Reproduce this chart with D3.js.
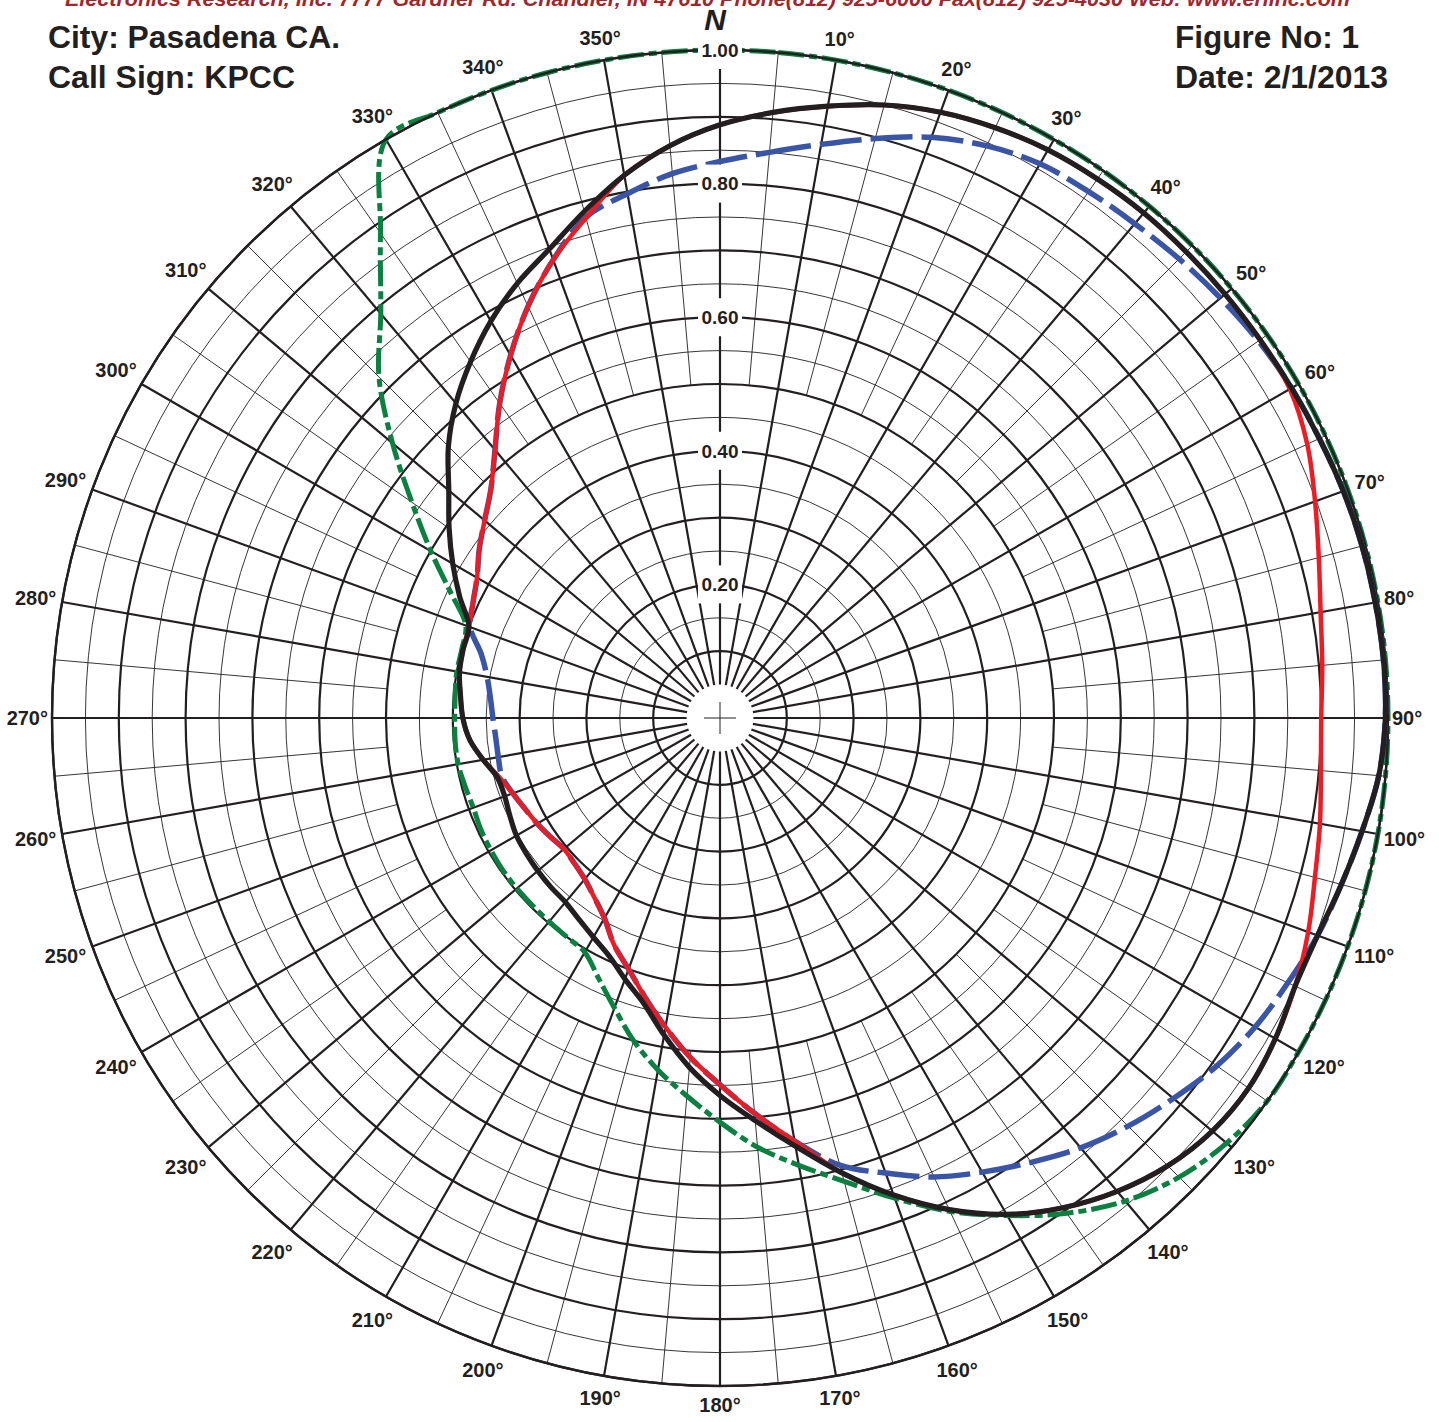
<!DOCTYPE html>
<html>
<head>
<meta charset="utf-8">
<script src="https://cdn.jsdelivr.net/npm/d3@7"></script>
<style>
  body { margin: 0; background: #fff; }
  svg { display: block; }
</style>
</head>
<body>
<div id="polarChart"></div>
<script>
// bearings (deg, clockwise from N) at which the patterns were read
const angles = [0,5,10,15,20,25,30,35,40,45,50,55,60,65,70,75,80,85,90,95,100,105,110,115,
  120,125,130,135,140,145,150,155,160,165,170,175,180,185,190,195,200,205,210,215,220,225,230,235,
  240,245,250,255,260,265,270,275,280,285,290,295,300,305,310,315,320,325,330,335,340,345,350,355];

// black - composite
const composite = [0.888,0.910,0.930,0.950,0.965,0.975,0.982,0.985,0.987,0.987,0.987,0.987,
  0.988,0.990,0.993,0.995,0.996,0.997,0.996,0.990,0.976,0.963,0.952,0.950,
  0.960,0.966,0.962,0.948,0.925,0.895,0.858,0.812,0.760,0.705,0.651,0.605,
  0.565,0.525,0.482,0.442,0.416,0.393,0.379,0.368,0.360,0.358,0.356,0.354,
  0.352,0.347,0.343,0.345,0.360,0.376,0.385,0.390,0.396,0.398,0.400,0.430,
  0.462,0.495,0.530,0.575,0.615,0.651,0.686,0.718,0.747,0.785,0.825,0.860];

// red
const patternA = [0.888,0.910,0.930,0.950,0.965,0.975,0.982,0.985,0.987,0.987,0.987,0.987,
  0.985,0.970,0.948,0.928,0.913,0.905,0.900,0.903,0.912,0.922,0.937,0.950,
  0.960,0.966,0.962,0.948,0.925,0.895,0.858,0.812,0.760,0.705,0.643,0.594,
  0.549,0.510,0.470,0.433,0.400,0.375,0.346,0.328,0.315,0.308,0.305,0.310,
  0.316,0.322,0.330,0.342,0.360,0.376,0.385,0.390,0.396,0.398,0.400,0.408,
  0.420,0.440,0.460,0.485,0.524,0.575,0.627,0.680,0.730,0.775,0.825,0.860];

// blue dashed
const patternB = [0.833,0.850,0.872,0.898,0.925,0.945,0.958,0.962,0.966,0.972,0.978,0.984,
  0.988,0.990,0.993,0.995,0.996,0.997,0.996,0.990,0.976,0.963,0.952,0.938,
  0.925,0.908,0.886,0.864,0.840,0.812,0.785,0.758,0.725,0.693,0.643,0.594,
  0.549,0.510,0.470,0.433,0.400,0.375,0.346,0.328,0.315,0.308,0.305,0.310,
  0.316,0.322,0.330,0.338,0.337,0.337,0.340,0.345,0.354,0.370,0.398,0.408,
  0.420,0.440,0.460,0.485,0.524,0.575,0.627,0.680,0.730,0.776,0.797,0.818];

// green dashed - envelope
const envelope = [1,1,1,1,1,1,1,1,1,1,1,1,
  1,1,1,1,1,1,1,1,1,1,1,1,
  1,1,0.990,0.972,0.944,0.905,0.860,0.815,0.765,0.718,0.680,0.645,
  0.605,0.568,0.535,0.500,0.462,0.430,0.405,0.400,0.398,0.397,0.397,0.397,
  0.396,0.395,0.393,0.395,0.398,0.398,0.397,0.398,0.400,0.400,0.405,0.445,
  0.500,0.563,0.640,0.722,0.790,0.886,1,1,1,1,1,1];

const ringTicks = [0.2, 0.4, 0.6, 0.8, 1.0];
const ringLabels = ["0.20", "0.40", "0.60", "0.80", "1.00"];
const bearingTicks = [10,20,30,40,50,60,70,80,90,100,110,120,130,140,150,160,170,180,
  190,200,210,220,230,240,250,260,270,280,290,300,310,320,330,340,350];

const header = "Electronics Research, Inc.  7777 Gardner Rd.  Chandler, IN  47610  Phone(812) 925-6000  Fax(812) 925-4030  Web: www.eriinc.com";

let w = 1439, h = 1422,
    cx = 720, cy = 718, R = 668;

const ink = "#231f20";

const svg = d3.select("#polarChart")
  .append("svg")
  .attr("width", w)
  .attr("height", h)
  .style("font-family", "'Liberation Sans', Arial, sans-serif");

svg.append("rect").attr("width", w).attr("height", h).attr("fill", "#fff");

let r = d3.scaleLinear().domain([0, 1]).range([0, R]);
let a = d3.scaleLinear().domain([0, 360]).range([0, 2 * Math.PI]);

const g = svg.append("g").attr("transform", `translate(${cx},${cy})`);

// rings: thick every 0.1, thin halfway between
const grid = g.append("g").attr("fill", "none").attr("stroke", ink);
grid.selectAll(".thin-ring")
  .data(d3.range(0.15, 1, 0.1))
  .join("circle")
  .attr("r", d => r(d))
  .attr("stroke-width", 0.9);
grid.selectAll(".thick-ring")
  .data(d3.range(0.1, 1.01, 0.1))
  .join("circle")
  .attr("r", d => r(d))
  .attr("stroke-width", 2.2);

// spokes: every 10 deg from hub, every 5 deg (thin) from 0.5 outward
const spoke = (deg, r0, r1) =>
  `M${r(r0) * Math.sin(a(deg))},${-r(r0) * Math.cos(a(deg))}L${r(r1) * Math.sin(a(deg))},${-r(r1) * Math.cos(a(deg))}`;
grid.selectAll(".thin-spoke")
  .data(d3.range(5, 360, 10))
  .join("path")
  .attr("d", d => spoke(d, 0.5, 1))
  .attr("stroke-width", 0.9);
grid.selectAll(".thick-spoke")
  .data(d3.range(0, 360, 10))
  .join("path")
  .attr("d", d => spoke(d, 0.05, 1))
  .attr("stroke-width", 2.2);

// hub
g.append("circle").attr("r", r(0.048)).attr("fill", "#fff");
g.append("path")
  .attr("d", "M-16,0H16M0,-16V16")
  .attr("stroke", ink)
  .attr("stroke-width", 1);

const line = d3.lineRadial()
  .angle((d, i) => a(angles[i]))
  .radius(d => r(d))
  .curve(d3.curveCatmullRomClosed.alpha(0.5));

g.append("path")
  .attr("d", line(envelope))
  .attr("fill", "none")
  .attr("stroke", "#0b8040")
  .attr("stroke-width", 5)
  .attr("stroke-dasharray", "26,5,8,5");

// outer ring sits over the green envelope
g.append("circle").attr("r", r(1)).attr("fill", "none").attr("stroke", ink).attr("stroke-width", 2.4);

g.append("path")
  .attr("d", line(patternB))
  .attr("fill", "none")
  .attr("stroke", "#3b55a6")
  .attr("stroke-width", 5.5)
  .attr("stroke-dasharray", "42,9");

g.append("path")
  .attr("d", line(patternA))
  .attr("fill", "none")
  .attr("stroke", "#ec1c24")
  .attr("stroke-width", 4.5);

g.append("path")
  .attr("d", line(composite))
  .attr("fill", "none")
  .attr("stroke", ink)
  .attr("stroke-width", 5.2)
  .attr("stroke-linejoin", "round");

// ring value labels along the 0 deg spoke
const rl = g.selectAll(".ring-label")
  .data(ringTicks)
  .join("g")
  .attr("transform", d => `translate(0,${-r(d)})`);
rl.append("rect")
  .attr("x", -22).attr("y", -19)
  .attr("width", 44).attr("height", 38)
  .attr("fill", "#fff");
rl.append("text")
  .attr("text-anchor", "middle")
  .attr("dy", "0.36em")
  .attr("font-size", 19)
  .attr("font-weight", "bold")
  .attr("fill", ink)
  .text((d, i) => ringLabels[i]);

// bearing labels
const bl = g.selectAll(".bearing")
  .data(bearingTicks)
  .join("text")
  .attr("text-anchor", "middle")
  .attr("dy", "0.36em")
  .attr("font-size", 20)
  .attr("font-weight", "bold")
  .attr("fill", ink)
  .text(d => d + "\u00b0");
bl.each(function(d) {
  const tw = this.getComputedTextLength();
  const s = Math.sin(a(d)), c = Math.cos(a(d));
  const off = 672 + Math.abs(s) * tw / 2 + Math.abs(c) * 15;
  d3.select(this).attr("x", off * s).attr("y", -off * c);
});

svg.append("text")
  .attr("x", 715).attr("y", 30)
  .attr("text-anchor", "middle")
  .attr("font-size", 30)
  .attr("font-weight", "bold")
  .attr("font-style", "italic")
  .attr("fill", ink)
  .text("N");

// header (cut off by the top edge, as on the original sheet) and titles
svg.append("text")
  .attr("x", 65).attr("y", 6)
  .attr("font-size", 20)
  .attr("font-weight", "bold")
  .attr("font-style", "italic")
  .attr("fill", "#a1262c")
  .attr("textLength", 1285)
  .attr("lengthAdjust", "spacingAndGlyphs")
  .text(header);

const titles = [
  { t: "City: Pasadena CA.", x: 48, y: 48, len: 292 },
  { t: "Call Sign: KPCC", x: 48, y: 88, len: 247 },
  { t: "Figure No: 1", x: 1175, y: 48, len: 184 },
  { t: "Date: 2/1/2013", x: 1175, y: 88, len: 213 }
];
svg.selectAll(".title")
  .data(titles)
  .join("text")
  .attr("x", d => d.x).attr("y", d => d.y)
  .attr("font-size", 32)
  .attr("font-weight", "bold")
  .attr("fill", ink)
  .style("font-family", "'Liberation Sans Narrow', 'Arial Narrow', 'Liberation Sans', sans-serif")
  .attr("textLength", d => d.len)
  .attr("lengthAdjust", "spacingAndGlyphs")
  .text(d => d.t);
</script>
</body>
</html>
